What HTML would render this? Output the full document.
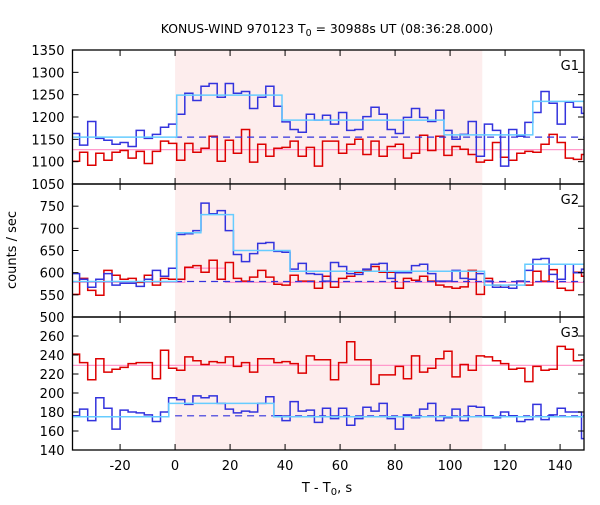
<!DOCTYPE html>
<html><head><meta charset="utf-8"><style>
html,body{margin:0;padding:0;background:#fff;}
svg text{font-family:"DejaVu Sans","Liberation Sans",sans-serif;font-size:13px;fill:#000;}
</style></head><body>
<svg id="chart" width="600" height="500" xmlns="http://www.w3.org/2000/svg">
<text x="327" y="33" text-anchor="middle" style="font-size:12.4px">KONUS-WIND 970123 T<tspan font-size="9.5" dy="3">0</tspan><tspan dy="-3"> = 30988s UT (08:36:28.000)</tspan></text>
<text transform="translate(16,250) rotate(-90)" text-anchor="middle">counts / sec</text>
<text x="327" y="492" text-anchor="middle">T - T<tspan font-size="10" dy="3">0</tspan><tspan dy="-3">, s</tspan></text>
<g id="plots"></g>
</svg>
<script>
const binStartK = -13;
const binWidth = 2.944;
const binOffset = 0.6;
const g1Blue = [1163,1137,1190,1152,1148,1139,1143,1134,1170,1152,1161,1177,1184,1206,1253,1237,1269,1275,1244,1275,1253,1257,1219,1244,1269,1224,1189,1172,
1166,1206,1193,1204,1184,1210,1170,1172,1201,1222,1206,1172,1163,1199,1219,1199,1190,1215,1170,1150,1161,1190,1112,1184,1170,1090,1172,1157,1188,1210,1257,1231,1184,1233,1222,1208];
const g1Red = [1101,1121,1092,1119,1103,1121,1125,1108,1123,1096,1123,1146,1141,1103,1141,1121,1130,1157,1101,1148,1119,1172,1099,1139,1112,1130,1132,1146,
1112,1132,1090,1146,1146,1119,1139,1150,1116,1146,1112,1134,1139,1108,1119,1159,1125,1157,1114,1134,1128,1116,1099,1103,1143,1110,1103,1119,1123,1121,1139,1161,1143,1108,1105,1116];
const g2Blue = [598,585,567,585,598,572,576,576,569,585,605,592,610,686,688,695,757,733,740,695,641,625,643,666,668,648,646,608,
621,598,596,581,623,614,598,596,608,619,621,587,600,600,616,619,598,581,581,605,587,585,598,581,567,567,565,581,605,630,632,596,585,619,600,608];
const g2Red = [551,587,560,549,605,594,585,587,578,594,572,587,585,585,612,616,601,628,585,623,587,581,590,605,590,574,572,594,
581,581,565,592,567,587,592,601,605,614,601,601,565,587,583,592,581,572,568,565,568,605,551,587,572,567,572,581,572,603,581,607,565,560,601,592];
const g3Red = [241,232,214,236,222,225,227,231,232,232,215,245,226,224,238,234,230,233,232,238,228,232,222,236,236,232,233,231,
221,239,235,235,214,232,254,235,235,209,219,219,228,215,239,222,226,236,244,217,230,224,239,238,234,231,225,226,212,228,224,225,249,246,234,235];
const g3Blue = [176,183,171,195,184,162,182,180,179,177,170,180,195,193,188,197,195,197,189,183,179,181,180,189,196,176,171,191,
181,182,169,184,173,184,166,173,185,181,189,173,162,177,174,183,189,171,174,183,171,186,185,176,174,180,176,170,172,188,172,177,184,180,180,152];
// fit segments: [tStart, tEnd, value]
const g1BlueFit = [[-40,0.6,1155],[0.6,38.9,1249],[38.9,97.8,1193],[97.8,130.1,1160],[130.1,155,1235]];
const g1PinkFit = [[-40,155,1127]];
const g2BlueFit = [[-40,0.6,580],[0.6,9.4,690],[9.4,21.2,731],[21.2,41.8,650],[41.8,112.5,603],[112.5,127.2,572],[127.2,155,619]];
const g2PinkFit = [[-40,3.5,578],[3.5,18.3,610],[18.3,155,578]];
const g3BlueFit = [[-40,-2.3,175],[-2.3,35.9,189],[35.9,155,175]];
const g3PinkFit = [[-40,155,229]];
const bgLevels = [1155,580,176];
const xTicks = [-20,0,20,40,60,80,100,120,140];
const shadeRange = [0,111.7];
const panelDefs = [
 {name:'g1',label:'G1',top:50,bot:184,min:1050,max:1350,ticks:[1050,1100,1150,1200,1250,1300,1350],labels:[1050,1100,1150,1200,1250,1300,1350],blue:g1Blue,red:g1Red,bfit:g1BlueFit,pfit:g1PinkFit},
 {name:'g2',label:'G2',top:184,bot:317,min:500,max:800,ticks:[500,550,600,650,700,750,800],labels:[500,550,600,650,700,750],blue:g2Blue,red:g2Red,bfit:g2BlueFit,pfit:g2PinkFit},
 {name:'g3',label:'G3',top:317,bot:450,min:140,max:280,ticks:[140,160,180,200,220,240,260,280],labels:[140,160,180,200,220,240,260],blue:g3Blue,red:g3Red,bfit:g3BlueFit,pfit:g3PinkFit}
];
const L=72.5,R=584,TMIN=-37.3,TMAX=148.7;
const NS='http://www.w3.org/2000/svg';
function xs(t){return L+(t-TMIN)/(TMAX-TMIN)*(R-L);}
function mk(tag,attrs,parent){const e=document.createElementNS(NS,tag);for(const k in attrs)e.setAttribute(k,attrs[k]);parent.appendChild(e);return e;}
const root=document.getElementById('plots');
panelDefs.forEach((p,pi)=>{
 const ys=v=>p.bot-(v-p.min)/(p.max-p.min)*(p.bot-p.top);
 const g=mk('g',{},root);
 
 
 const cid='clip'+pi;
 const cp=mk('clipPath',{id:cid},g);mk('rect',{x:L,y:p.top,width:R-L,height:p.bot-p.top},cp);
 const sh=mk('rect',{x:xs(shadeRange[0]),y:p.top,width:xs(shadeRange[1])-xs(shadeRange[0]),height:p.bot-p.top,fill:'#fdeded'},g);
 
 
 const inner=mk('g',{'clip-path':'url(#'+cid+')'},g);
 function stepPath(arr){let d='';arr.forEach((v,i)=>{const t0=binOffset+(binStartK+i)*binWidth,t1=t0+binWidth;const y=ys(v);d+=(i?'L':'M')+xs(t0).toFixed(1)+','+y.toFixed(1)+'L'+xs(t1).toFixed(1)+','+y.toFixed(1);});return d;}
 function fitPath(segs){let d='';segs.forEach((s,i)=>{const y=ys(s[2]);d+=(i?'L':'M')+xs(s[0]).toFixed(1)+','+y.toFixed(1)+'L'+xs(s[1]).toFixed(1)+','+y.toFixed(1);});return d;}
 const pf=mk('path',{d:fitPath(p.pfit),fill:'none',stroke:'#ff99cc','stroke-width':1.3},inner);
 
 
 const rs=mk('path',{d:stepPath(p.red),fill:'none',stroke:'#dd0000','stroke-width':1.5},inner);
 
 
 const bg=mk('line',{x1:xs(0),x2:R,y1:ys(bgLevels[pi]),y2:ys(bgLevels[pi]),stroke:'#3333dd','stroke-width':1.2,'stroke-dasharray':'7,5'},inner);
 
 
 const bs=mk('path',{d:stepPath(p.blue),fill:'none',stroke:'#3333dd','stroke-width':1.5},inner);
 
 
 const bf=mk('path',{d:fitPath(p.bfit),fill:'none',stroke:'#66ccff','stroke-width':1.5},inner);
 
 
 const fr=mk('rect',{x:L,y:p.top,width:R-L,height:p.bot-p.top,fill:'none',stroke:'#000','stroke-width':1.3},g);
 
 
 xTicks.forEach(t=>{const x=xs(t);
  mk('line',{x1:x,x2:x,y1:p.bot,y2:p.bot-6,stroke:'#000','stroke-width':1},g);
  mk('line',{x1:x,x2:x,y1:p.top,y2:p.top+6,stroke:'#000','stroke-width':1},g);
 });
 p.ticks.forEach(v=>{const y=ys(v);
  mk('line',{x1:L,x2:L+6,y1:y,y2:y,stroke:'#000','stroke-width':1},g);
  mk('line',{x1:R,x2:R-6,y1:y,y2:y,stroke:'#000','stroke-width':1},g);
 });
 p.labels.forEach(v=>{const tx=mk('text',{x:L-8,y:ys(v)+5,'text-anchor':'end'},g);tx.textContent=v;
  
  
 });
 const lb=mk('text',{x:R-5,y:p.top+20,'text-anchor':'end'},g);lb.textContent=p.label;
 
 
});
xTicks.forEach(t=>{const tx=mk('text',{x:xs(t),y:470,'text-anchor':'middle'},root);tx.textContent=t;
 
 
});
</script>
</body></html>
